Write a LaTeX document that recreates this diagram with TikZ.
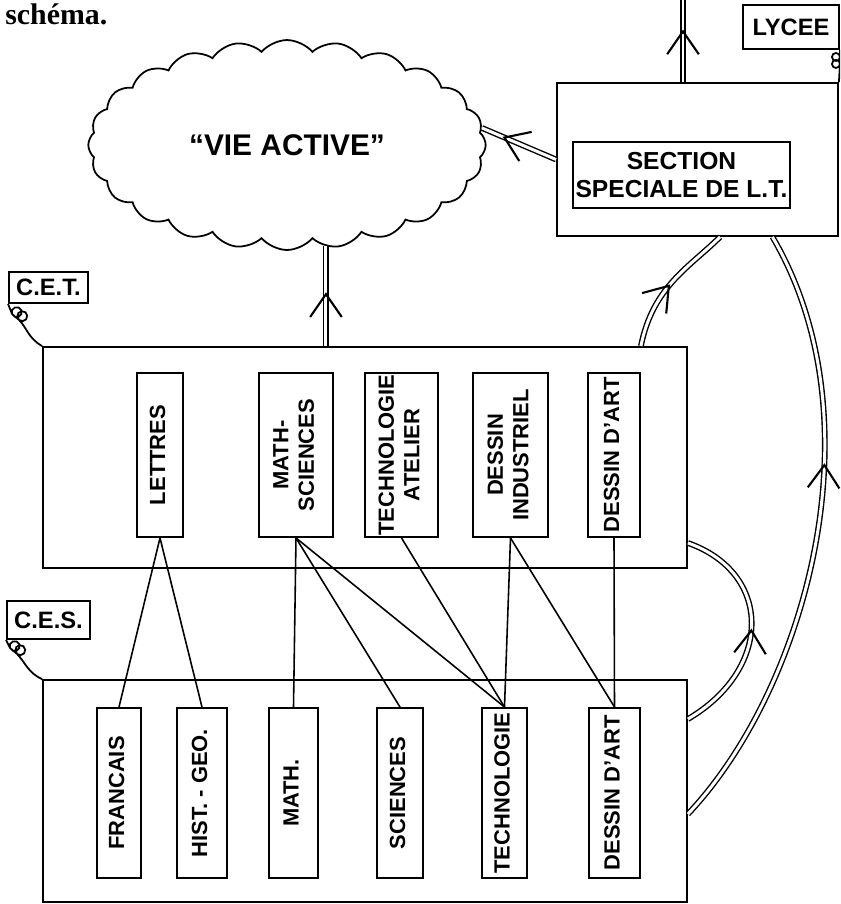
\documentclass[tikz,border=0pt]{standalone}
\usepackage{fontspec}
\setmainfont{Liberation Sans}
\newfontfamily\captionserif{Liberation Serif}
\usepackage{graphicx}
\usetikzlibrary{shapes.symbols, arrows.meta, decorations.markings}

\tikzset{
  box/.style={draw, line width=1.1pt, inner sep=0pt},
  tag/.style={box, font=\fontsize{13.5}{15}\selectfont\bfseries},
  subj/.style={box, font=\fontsize{12.5}{14.5}\selectfont\bfseries},
  link/.style={line width=0.9pt},
  hook/.style={line width=1pt},
  flow/.style={double, double distance=1.7pt, line width=0.8pt},
  mid/.style={postaction={decorate}, decoration={markings, mark=at position #1 with {\arrow[line width=1.2pt]{Straight Barb[length=13pt,width=18pt]}}}}
}
\newcommand{\vtxt}[1]{\rotatebox{90}{\begin{tabular}{@{}c@{}}#1\end{tabular}}}

\begin{document}
\begin{tikzpicture}[x=0.02cm, y=-0.02cm]
    \useasboundingbox (0,0) rectangle (840,904);
    \clip (0,0) rectangle (840,904);

    \node[anchor=base west, inner sep=0pt, font=\captionserif\bfseries\fontsize{17}{17}\selectfont] (capt) at (5,24) {schéma.};

    % Lycee
    \node[box, minimum width=5.62cm, minimum height=3.06cm] (lycee) at (697.5,159.5) {};
    \node[subj, font=\fontsize{14}{16}\selectfont\bfseries, minimum width=4.34cm, minimum height=1.32cm, align=center] (section) at (681.5,175) {SECTION\\SPECIALE DE L.T.};
    \node[tag, minimum width=1.92cm, minimum height=0.88cm] (lyclbl) at (791,27) {LYCEE};
    \coordinate (exit) at (683,0);

    % Vie active
    \node[cloud, draw, line width=1pt, cloud puffs=24, cloud puff arc=100, aspect=1.95,
          minimum width=7.95cm, minimum height=4.2cm, inner sep=0pt,
          font=\fontsize{17}{17}\selectfont\bfseries] (vac) at (287,145) {“VIE ACTIVE”};

    % C.E.T.
    \node[box, minimum width=12.88cm, minimum height=4.42cm] (cet) at (365,457.5) {};
    \node[tag, minimum width=1.58cm, minimum height=0.62cm] (cetlbl) at (48.5,287.5) {C.E.T.};
    \node[subj, minimum width=0.92cm, minimum height=3.28cm] (lettres) at (160,455) {\vtxt{LETTRES}};
    \node[subj, minimum width=1.48cm, minimum height=3.28cm] (mathsci) at (296,455) {\vtxt{MATH-\\SCIENCES}};
    \node[subj, minimum width=1.46cm, minimum height=3.28cm] (techat) at (401.5,455) {\vtxt{TECHNOLOGIE\\ATELIER}};
    \node[subj, minimum width=1.5cm, minimum height=3.28cm] (desind) at (510.5,455) {\vtxt{DESSIN\\INDUSTRIEL}};
    \node[subj, minimum width=1.04cm, minimum height=3.28cm] (artcet) at (614,455) {\vtxt{DESSIN D'ART}};

    % C.E.S.
    \node[box, minimum width=12.88cm, minimum height=4.44cm] (ces) at (365,791) {};
    \node[tag, minimum width=1.66cm, minimum height=0.76cm] (ceslbl) at (48.5,620) {C.E.S.};
    \node[subj, minimum width=0.88cm, minimum height=3.4cm] (francais) at (119,793) {\vtxt{FRANCAIS}};
    \node[subj, minimum width=1.0cm, minimum height=3.4cm] (histgeo) at (202,793) {\vtxt{HIST. - GEO.}};
    \node[subj, minimum width=0.98cm, minimum height=3.4cm] (math) at (293.5,793) {\vtxt{MATH.}};
    \node[subj, minimum width=0.92cm, minimum height=3.4cm] (sciences) at (400,793) {\vtxt{SCIENCES}};
    \node[subj, minimum width=0.9cm, minimum height=3.4cm] (techno) at (504.5,793) {\vtxt{TECHNOLOGIE}};
    \node[subj, minimum width=1.02cm, minimum height=3.4cm] (artces) at (614.5,793) {\vtxt{DESSIN D'ART}};

    % labels hooked on the boxes (little curls)
    \draw[hook] (cetlbl.south west) -- ++(4,10)
        arc[start angle=-158, end angle=202, radius=0.1cm] -- ++(7,6)
        arc[start angle=-130, end angle=230, radius=0.1cm]
        .. controls +(8,8) and +(-14,-8) .. (cet.north west);
    \draw[hook] (ceslbl.south west) -- ++(4,8)
        arc[start angle=-158, end angle=202, radius=0.1cm] -- ++(7,6)
        arc[start angle=-130, end angle=230, radius=0.1cm]
        .. controls +(8,8) and +(-14,-6) .. (ces.north west);
    \draw[hook] (lyclbl.south east) -- ++(0,7)
        arc[start angle=0, end angle=-360, radius=0.08cm] -- ++(0,7)
        arc[start angle=0, end angle=-360, radius=0.08cm] -- (lycee.north east);

    % subject links
    \draw[link] (lettres.south) -- (francais.north);
    \draw[link] (lettres.south) -- (histgeo.north);
    \draw[link] (mathsci.south) -- (math.north);
    \draw[link] (mathsci.south) -- (sciences.north);
    \draw[link] (mathsci.south) -- (techno.north);
    \draw[link] (techat.south) -- (techno.north);
    \draw[link] (desind.south) -- (techno.north);
    \draw[link] (desind.south) -- (artces.north);
    \draw[link] (artcet.south) -- (artces.north);

    % flows
    \draw[flow, mid=0.54] (vac.-69 |- cet.north) -- (vac.-69);
    \draw[flow, mid=0.72] (lycee.west) -- (vac.5);
    \draw[flow, mid=0.64] (lycee.north -| exit) -- (exit);
    \draw[flow, mid=0.5] ([xshift=-0.94cm]cet.north east) .. controls +(12,-60) and +(-30,30) .. ([xshift=0.45cm]lycee.south);
    \draw[flow, mid=0.5] ([yshift=-0.8cm]ces.north east) .. controls +(85,-50) and +(85,30) .. ([yshift=0.52cm]cet.south east);
    \draw[flow, mid=0.62] ([yshift=-2.7cm]ces.north east) .. controls +(118,-125) and +(108,184) .. ([xshift=1.5cm]lycee.south);
\end{tikzpicture}
\end{document}
